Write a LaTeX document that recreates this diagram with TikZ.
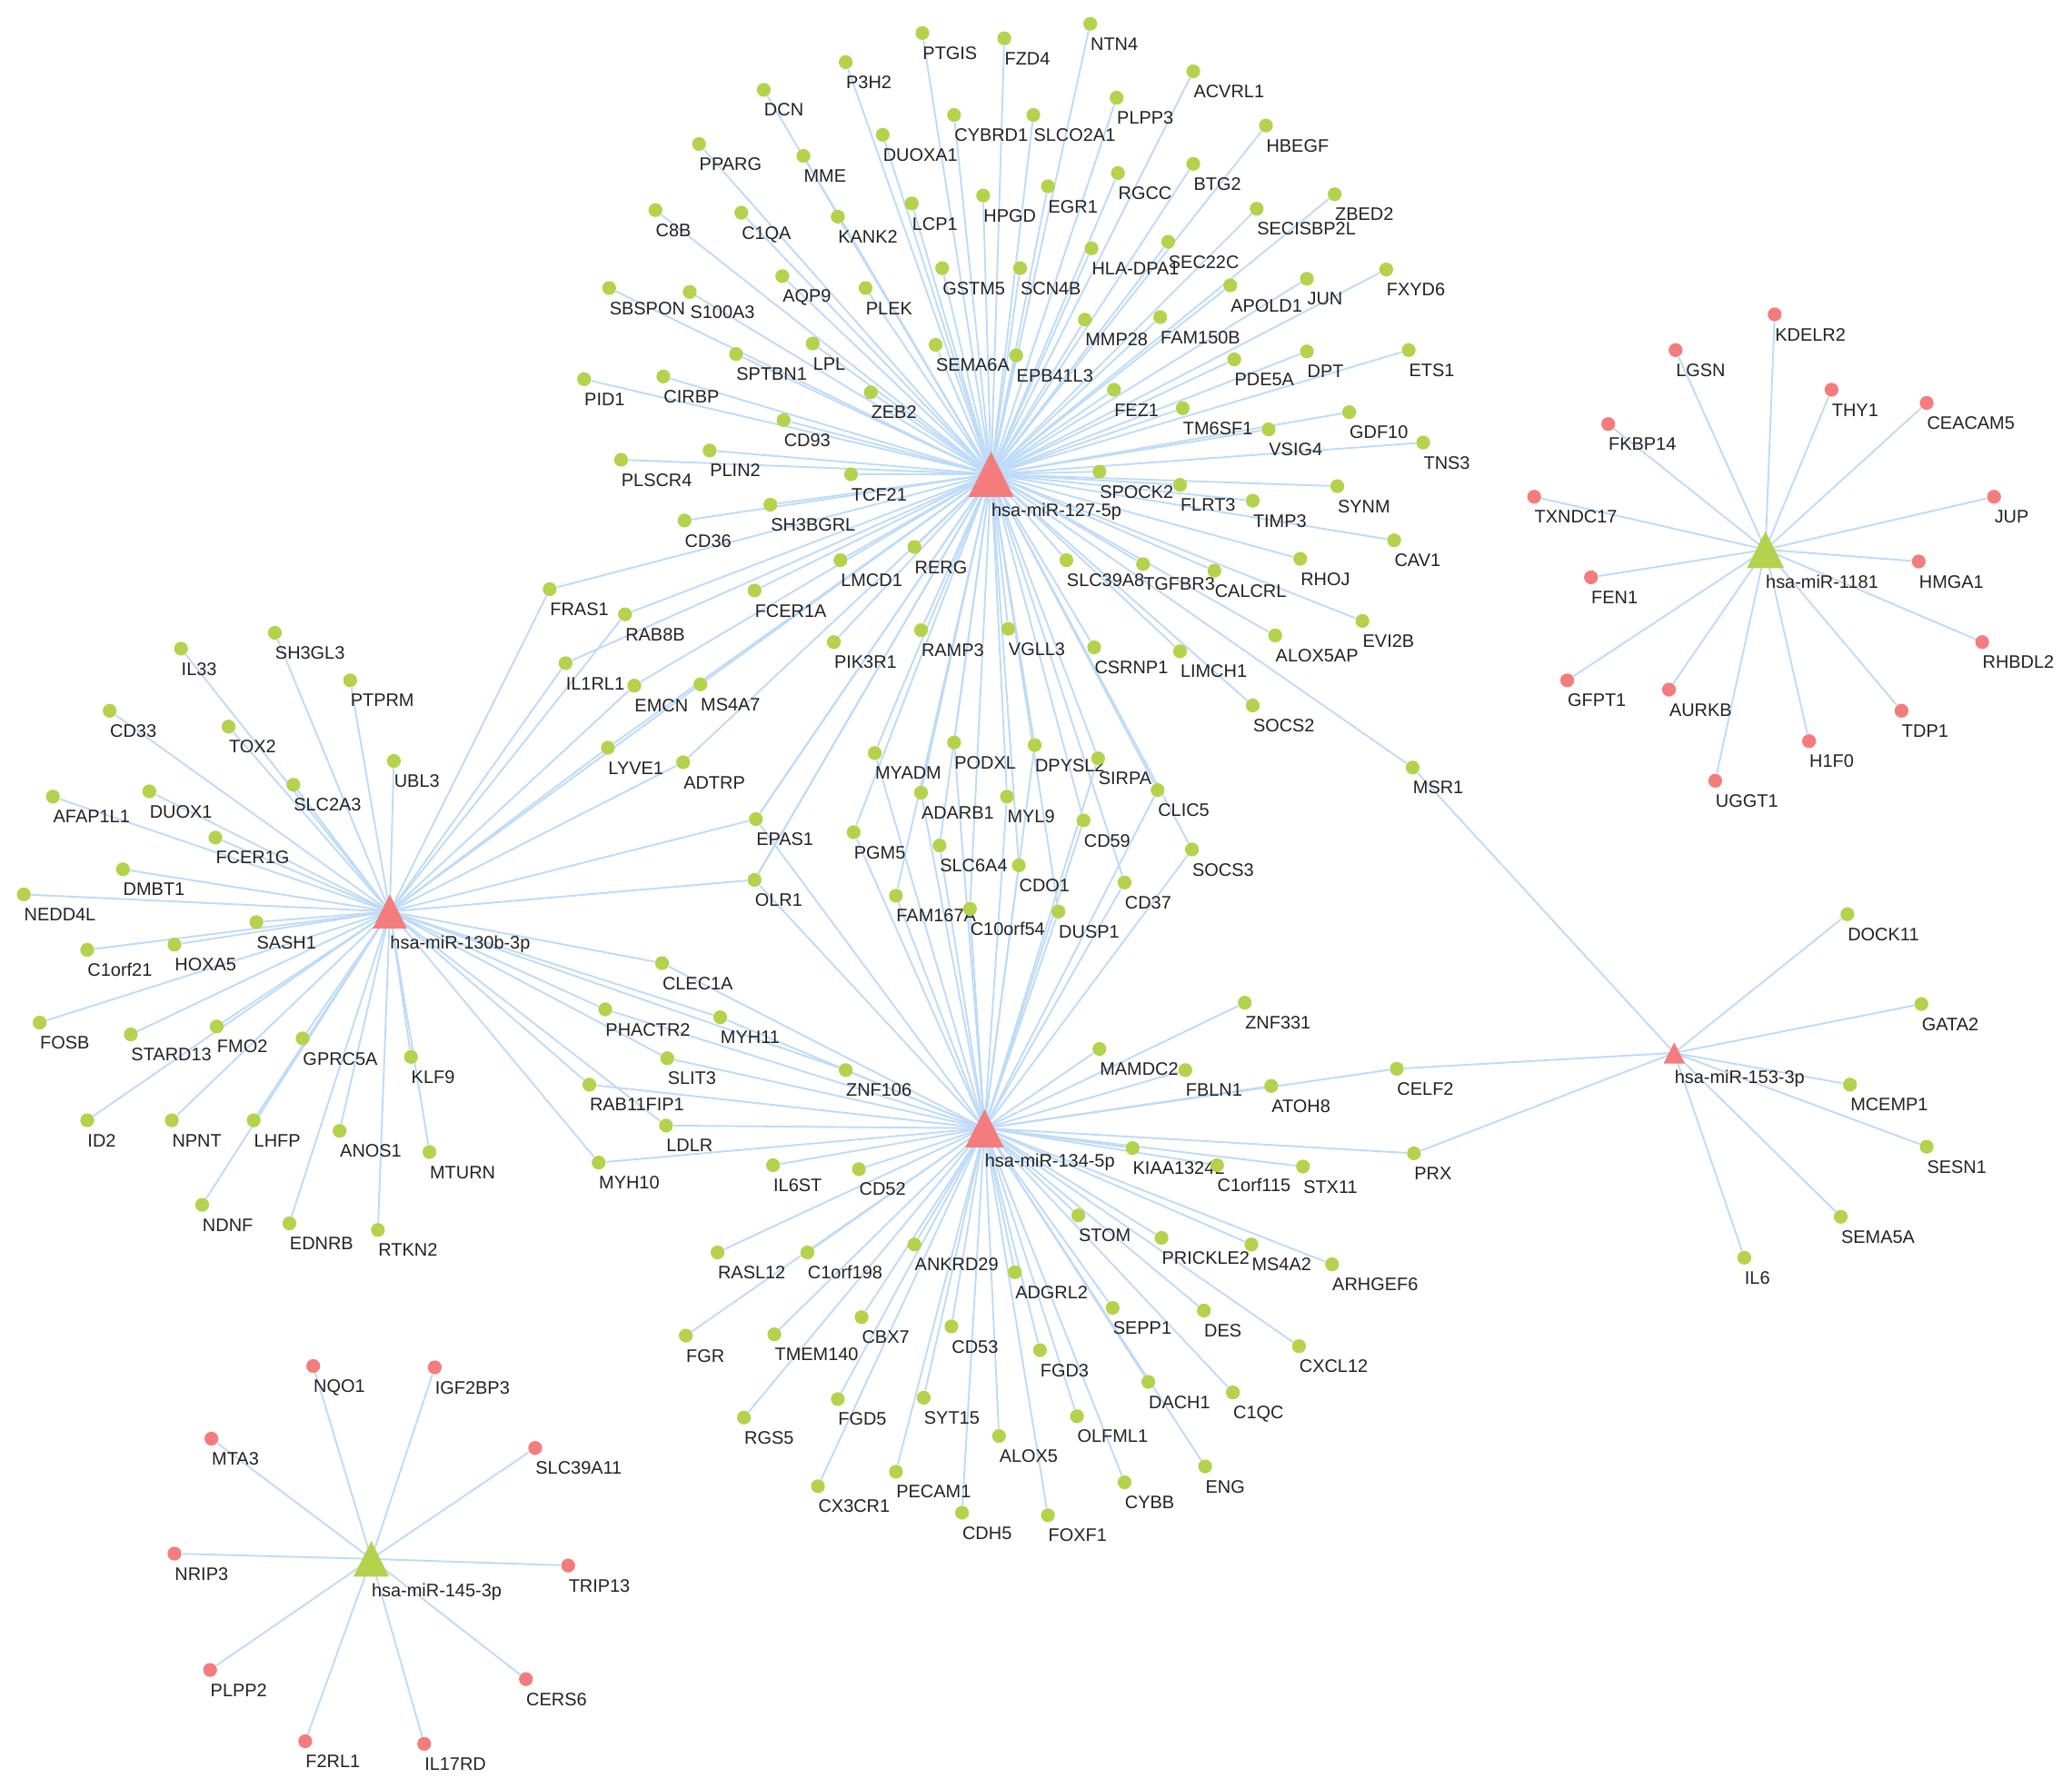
\documentclass[tikz,border=0pt]{standalone}
\usepackage{fontspec}
\setmainfont{Liberation Sans}
\pgfdeclarelayer{bg}
\pgfsetlayers{bg,main}
\definecolor{dotgreen}{RGB}{181,210,76}
\definecolor{dotred}{RGB}{244,124,124}
\definecolor{edgeblue}{RGB}{190,219,248}
\definecolor{txt}{RGB}{34,34,34}
\tikzset{
  gdot/.style={circle,fill=dotgreen,inner sep=0pt,minimum size=0.21cm},
  rdot/.style={circle,fill=dotred,inner sep=0pt,minimum size=0.21cm},
  lab/.style={anchor=base west,inner sep=0pt,text=txt,font=\fontsize{7.8}{9}\selectfont},
  edge/.style={draw=edgeblue,line width=0.75pt},
}
\newcommand\gdt[3]{\node[gdot] (#1) at (#2,#3) {}; \node[lab] at (#2,#3+20) {#1};}
\newcommand\gdtl[4]{\node[gdot] (#1) at (#2,#3) {}; \node[lab] at (#2,#3+20) {#4};}
\newcommand\rdt[3]{\node[rdot] (#1) at (#2,#3) {}; \node[lab] at (#2,#3+20) {#1};}
\newcommand\hub[6]{\coordinate (#1) at (#2,#3);
  \fill[#5] (#2-#4,#3+#4) -- (#2+#4,#3+#4) -- (#2,#3-#4) -- cycle;
  \node[lab] at (#2,#3+#4+15) {#6};}
\begin{document}
\begin{tikzpicture}[x=0.02cm,y=-0.02cm]
\useasboundingbox (0,0) rectangle (1568,1353);
% hubs
\hub{m127}{750}{359}{17}{dotred}{hsa-miR-127-5p}
\hub{m134}{745}{854}{14.5}{dotred}{hsa-miR-134-5p}
\hub{m130}{295}{690}{13}{dotred}{hsa-miR-130b-3p}
\hub{m153}{1267}{797}{8}{dotred}{hsa-miR-153-3p}
\hub{m1181}{1336}{416}{14}{dotgreen}{hsa-miR-1181}
\hub{m145}{281}{1180}{13.5}{dotgreen}{hsa-miR-145-3p}
% top cluster
\gdt{PTGIS}{698}{25}
\gdt{FZD4}{760}{29}
\gdt{NTN4}{825}{18}
\gdt{P3H2}{640}{47}
\gdt{ACVRL1}{903}{54}
\gdt{DCN}{578}{68}
\gdt{CYBRD1}{722}{87}
\gdt{SLCO2A1}{782}{87}
\gdt{PLPP3}{845}{74}
\gdt{DUOXA1}{668}{102}
\gdt{PPARG}{529}{109}
\gdt{MME}{608}{118}
\gdt{HBEGF}{958}{95}
\gdt{BTG2}{903}{124}
\gdt{RGCC}{846}{131}
\gdt{EGR1}{793}{141}
\gdt{HPGD}{744}{148}
\gdt{LCP1}{690}{154}
\gdt{ZBED2}{1010}{147}
\gdt{SECISBP2L}{951}{158}
\gdt{C8B}{496}{159}
\gdt{C1QA}{561}{161}
\gdt{KANK2}{634}{164}
\gdtl{HLADPA1}{826}{188}{HLA-DPA1}
\gdt{SEC22C}{884}{183}
\gdt{GSTM5}{713}{203}
\gdt{SCN4B}{772}{203}
\gdt{AQP9}{592}{209}
\gdt{PLEK}{655}{218}
\gdt{SBSPON}{461}{218}
\gdt{S100A3}{522}{221}
\gdt{JUN}{989}{211}
\gdt{FXYD6}{1049}{204}
\gdt{APOLD1}{931}{216}
\gdt{MMP28}{821}{242}
\gdt{FAM150B}{878}{240}
\gdt{SEMA6A}{708}{261}
\gdt{EPB41L3}{769}{269}
\gdt{LPL}{615}{260}
\gdt{SPTBN1}{557}{268}
\gdt{DPT}{989}{266}
\gdt{ETS1}{1066}{265}
\gdt{PDE5A}{934}{272}
\gdt{CIRBP}{502}{285}
\gdt{PID1}{442}{287}
\gdt{ZEB2}{659}{297}
\gdt{FEZ1}{843}{295}
\gdt{TM6SF1}{895}{309}
\gdt{GDF10}{1021}{312}
\gdt{CD93}{593}{318}
\gdt{VSIG4}{960}{325}
\gdt{TNS3}{1077}{335}
\gdt{PLIN2}{537}{341}
\gdt{PLSCR4}{470}{348}
\gdt{TCF21}{644}{359}
\gdt{SPOCK2}{832}{357}
\gdt{FLRT3}{893}{367}
\gdt{SYNM}{1012}{368}
\gdt{TIMP3}{948}{379}
\gdt{SH3BGRL}{583}{382}
\gdt{CD36}{518}{394}
\gdt{CAV1}{1055}{409}
\gdt{RHOJ}{984}{423}
\gdt{RERG}{692}{414}
\gdt{LMCD1}{636}{424}
\gdt{SLC39A8}{807}{424}
\gdt{TGFBR3}{865}{427}
\gdt{CALCRL}{919}{432}
\gdt{FRAS1}{416}{446}
\gdt{FCER1A}{571}{447}
\gdt{RAB8B}{473}{465}
\gdt{EVI2B}{1031}{470}
\gdt{ALOX5AP}{965}{481}
\gdt{RAMP3}{697}{477}
\gdt{VGLL3}{763}{476}
\gdt{PIK3R1}{631}{486}
\gdt{CSRNP1}{828}{490}
\gdt{LIMCH1}{893}{493}
\gdt{IL1RL1}{428}{502}
\gdt{EMCN}{480}{519}
\gdt{MS4A7}{530}{518}
\gdt{SOCS2}{948}{534}
\gdt{LYVE1}{460}{566}
\gdt{ADTRP}{517}{577}
\gdt{MYADM}{662}{570}
\gdt{PODXL}{722}{562}
\gdt{DPYSL2}{783}{564}
\gdt{SIRPA}{831}{574}
\gdt{MSR1}{1069}{581}
\gdt{CLIC5}{876}{598}
\gdt{ADARB1}{697}{600}
\gdt{MYL9}{762}{603}
\gdt{EPAS1}{572}{620}
\gdt{CD59}{820}{621}
\gdt{PGM5}{646}{630}
\gdt{SLC6A4}{711}{640}
\gdt{CDO1}{771}{655}
\gdt{SOCS3}{902}{643}
\gdt{CD37}{851}{668}
\gdt{OLR1}{571}{666}
\gdt{FAM167A}{678}{678}
\gdt{C10orf54}{734}{688}
\gdt{DUSP1}{801}{690}
% left cluster
\gdt{IL33}{137}{491}
\gdt{SH3GL3}{208}{479}
\gdt{PTPRM}{265}{515}
\gdt{CD33}{83}{538}
\gdt{TOX2}{173}{550}
\gdt{UBL3}{298}{576}
\gdt{SLC2A3}{222}{594}
\gdt{AFAP1L1}{40}{603}
\gdt{DUOX1}{113}{599}
\gdt{FCER1G}{163}{634}
\gdt{DMBT1}{93}{658}
\gdt{NEDD4L}{18}{677}
\gdt{SASH1}{194}{698}
\gdt{HOXA5}{132}{715}
\gdt{C1orf21}{66}{719}
\gdt{FOSB}{30}{774}
\gdt{STARD13}{99}{783}
\gdt{FMO2}{164}{777}
\gdt{GPRC5A}{229}{786}
\gdt{KLF9}{311}{800}
\gdt{ID2}{66}{848}
\gdt{NPNT}{130}{848}
\gdt{LHFP}{192}{848}
\gdt{ANOS1}{257}{856}
\gdt{MTURN}{325}{872}
\gdt{NDNF}{153}{912}
\gdt{EDNRB}{219}{926}
\gdt{RTKN2}{286}{931}
% between 130b and 134
\gdt{CLEC1A}{501}{729}
\gdt{PHACTR2}{458}{764}
\gdt{MYH11}{545}{770}
\gdt{SLIT3}{505}{801}
\gdt{ZNF106}{640}{810}
\gdt{RAB11FIP1}{446}{821}
\gdt{LDLR}{504}{852}
\gdt{MYH10}{453}{880}
% bottom cluster
\gdt{ZNF331}{942}{759}
\gdt{MAMDC2}{832}{794}
\gdt{FBLN1}{897}{810}
\gdt{ATOH8}{962}{822}
\gdt{CELF2}{1057}{809}
\gdt{KIAA1324L}{857}{869}
\gdt{C1orf115}{921}{882}
\gdt{STX11}{986}{883}
\gdt{PRX}{1070}{873}
\gdt{IL6ST}{585}{882}
\gdt{CD52}{650}{885}
\gdt{STOM}{816}{920}
\gdt{PRICKLE2}{879}{937}
\gdt{MS4A2}{947}{942}
\gdt{ARHGEF6}{1008}{957}
\gdt{RASL12}{543}{948}
\gdt{C1orf198}{611}{948}
\gdt{ANKRD29}{692}{942}
\gdt{ADGRL2}{768}{963}
\gdt{SEPP1}{842}{990}
\gdt{DES}{911}{992}
\gdt{CXCL12}{983}{1019}
\gdt{FGR}{519}{1011}
\gdt{TMEM140}{586}{1010}
\gdt{CBX7}{652}{997}
\gdt{CD53}{720}{1004}
\gdt{FGD3}{787}{1022}
\gdt{DACH1}{869}{1046}
\gdt{C1QC}{933}{1054}
\gdt{FGD5}{634}{1059}
\gdt{SYT15}{699}{1058}
\gdt{OLFML1}{815}{1072}
\gdt{RGS5}{563}{1073}
\gdt{ALOX5}{756}{1087}
\gdt{ENG}{912}{1110}
\gdt{CX3CR1}{619}{1125}
\gdt{PECAM1}{678}{1114}
\gdt{CYBB}{851}{1122}
\gdt{CDH5}{728}{1145}
\gdt{FOXF1}{793}{1147}
% 153-3p
\gdt{DOCK11}{1398}{692}
\gdt{GATA2}{1454}{760}
\gdt{MCEMP1}{1400}{821}
\gdt{SESN1}{1458}{868}
\gdt{SEMA5A}{1393}{921}
\gdt{IL6}{1320}{952}
% 1181
\rdt{KDELR2}{1343}{238}
\rdt{LGSN}{1268}{265}
\rdt{THY1}{1386}{295}
\rdt{CEACAM5}{1458}{305}
\rdt{FKBP14}{1217}{321}
\rdt{TXNDC17}{1161}{376}
\rdt{JUP}{1509}{376}
\rdt{HMGA1}{1452}{425}
\rdt{FEN1}{1204}{437}
\rdt{RHBDL2}{1500}{486}
\rdt{GFPT1}{1186}{515}
\rdt{AURKB}{1263}{522}
\rdt{TDP1}{1439}{538}
\rdt{H1F0}{1369}{561}
\rdt{UGGT1}{1298}{591}
% 145-3p
\rdt{NQO1}{237}{1034}
\rdt{IGF2BP3}{329}{1035}
\rdt{MTA3}{160}{1089}
\rdt{SLC39A11}{405}{1096}
\rdt{NRIP3}{132}{1176}
\rdt{TRIP13}{430}{1185}
\rdt{PLPP2}{159}{1264}
\rdt{CERS6}{398}{1271}
\rdt{F2RL1}{231}{1318}
\rdt{IL17RD}{321}{1320}
% edges
\begin{pgfonlayer}{bg}
\foreach \g in {PTGIS,FZD4,NTN4,P3H2,ACVRL1,DCN,CYBRD1,SLCO2A1,PLPP3,DUOXA1,PPARG,MME,HBEGF,BTG2,RGCC,EGR1,HPGD,LCP1,ZBED2,SECISBP2L,C8B,C1QA,KANK2,HLADPA1,SEC22C,GSTM5,SCN4B,AQP9,PLEK,SBSPON,S100A3,JUN,FXYD6,APOLD1,MMP28,FAM150B,SEMA6A,EPB41L3,LPL,SPTBN1,DPT,ETS1,PDE5A,CIRBP,PID1,ZEB2,FEZ1,TM6SF1,GDF10,CD93,VSIG4,TNS3,PLIN2,PLSCR4,TCF21,SPOCK2,FLRT3,SYNM,TIMP3,SH3BGRL,CD36,CAV1,RHOJ,RERG,LMCD1,SLC39A8,TGFBR3,CALCRL,FCER1A,EVI2B,ALOX5AP,RAMP3,VGLL3,PIK3R1,CSRNP1,LIMCH1,SOCS2,MSR1}
  {\draw[edge] (m127) -- (\g);}
\foreach \g in {FRAS1,RAB8B,IL1RL1,EMCN,MS4A7,LYVE1,ADTRP,EPAS1,OLR1}
  {\draw[edge] (m127) -- (\g); \draw[edge] (m130) -- (\g);}
\foreach \g in {MYADM,PODXL,DPYSL2,SIRPA,CLIC5,ADARB1,MYL9,CD59,PGM5,SLC6A4,CDO1,SOCS3,CD37,FAM167A,C10orf54,DUSP1,EPAS1,OLR1}
  {\draw[edge] (m127) -- (\g); \draw[edge] (m134) -- (\g);}
\foreach \g in {IL33,SH3GL3,PTPRM,CD33,TOX2,UBL3,SLC2A3,AFAP1L1,DUOX1,FCER1G,DMBT1,NEDD4L,SASH1,HOXA5,C1orf21,FOSB,STARD13,FMO2,GPRC5A,KLF9,ID2,NPNT,LHFP,ANOS1,MTURN,NDNF,EDNRB,RTKN2}
  {\draw[edge] (m130) -- (\g);}
\foreach \g in {CLEC1A,PHACTR2,MYH11,SLIT3,ZNF106,RAB11FIP1,LDLR,MYH10}
  {\draw[edge] (m130) -- (\g); \draw[edge] (m134) -- (\g);}
\foreach \g in {ZNF331,MAMDC2,FBLN1,ATOH8,CELF2,KIAA1324L,C1orf115,STX11,PRX,IL6ST,CD52,STOM,PRICKLE2,MS4A2,ARHGEF6,RASL12,C1orf198,ANKRD29,ADGRL2,SEPP1,DES,CXCL12,FGR,TMEM140,CBX7,CD53,FGD3,DACH1,C1QC,FGD5,SYT15,OLFML1,RGS5,ALOX5,ENG,CX3CR1,PECAM1,CYBB,CDH5,FOXF1}
  {\draw[edge] (m134) -- (\g);}
\foreach \g in {DOCK11,GATA2,MCEMP1,SESN1,SEMA5A,IL6,CELF2,PRX,MSR1}
  {\draw[edge] (m153) -- (\g);}
\foreach \g in {KDELR2,LGSN,THY1,CEACAM5,FKBP14,TXNDC17,JUP,HMGA1,FEN1,RHBDL2,GFPT1,AURKB,TDP1,H1F0,UGGT1}
  {\draw[edge] (m1181) -- (\g);}
\foreach \g in {NQO1,IGF2BP3,MTA3,SLC39A11,NRIP3,TRIP13,PLPP2,CERS6,F2RL1,IL17RD}
  {\draw[edge] (m145) -- (\g);}
\end{pgfonlayer}
\end{tikzpicture}
\end{document}
